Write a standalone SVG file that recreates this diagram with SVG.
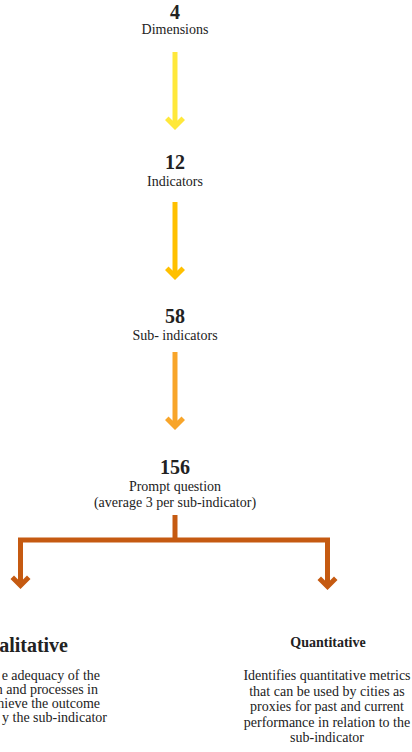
<svg xmlns="http://www.w3.org/2000/svg" width="412" height="752" viewBox="0 0 412 752">
<style>
text{font-family:"Liberation Serif","Times New Roman",serif;fill:#222;}
.num{font-size:20px;font-weight:bold;text-anchor:middle;}
.lbl{font-size:14px;text-anchor:middle;}
.qt{font-size:14px;font-weight:bold;text-anchor:middle;}
.qd{font-size:14px;text-anchor:middle;}
.lt{font-size:20px;font-weight:bold;text-anchor:end;}
.ld{font-size:14px;text-anchor:end;}
.shaft{fill:none;stroke-width:5;stroke-linejoin:miter;}
</style>
<defs>
<path id="head" d="M-2.5,-9.5 L-6.5,-13.5 L-10,-10 L0,0 L10,-10 L6.5,-13.5 L2.5,-9.5 Z"/>
</defs>
<g id="n-dimensions">
<text class="num" x="175" y="19">4</text>
<text class="lbl" x="175" y="34">Dimensions</text>
</g>
<g id="n-indicators">
<text class="num" x="175" y="169">12</text>
<text class="lbl" x="175" y="186">Indicators</text>
</g>
<g id="n-subindicators">
<text class="num" x="175" y="323">58</text>
<text class="lbl" x="175" y="340">Sub- indicators</text>
</g>
<g id="n-prompt">
<text class="num" x="175" y="474">156</text>
<text class="lbl" x="175" y="491">Prompt question</text>
<text class="lbl" x="175" y="507">(average 3 per sub-indicator)</text>
</g>
<g id="n-qualitative">
<text class="lt" x="68" y="652">alitative</text>
<text class="ld" x="100" y="680">e adequacy of the</text>
<text class="ld" x="98" y="694">n and processes in</text>
<text class="ld" x="100" y="708">hieve the outcome</text>
<text class="ld" x="107" y="722">y the sub-indicator</text>
</g>
<g id="n-quantitative">
<text class="qt" x="328" y="647">Quantitative</text>
<text class="qd" x="327" y="680">Identifies quantitative metrics</text>
<text class="qd" x="327" y="695.5">that can be used by cities as</text>
<text class="qd" x="327" y="711">proxies for past and current</text>
<text class="qd" x="327" y="726.5">performance in relation to the</text>
<text class="qd" x="327" y="742">sub-indicator</text>
</g>
<g id="connectors">
<g fill="#FFE83B" stroke="#FFE83B">
<path class="shaft" d="M175,52 V122"/>
<use href="#head" x="175" y="130" stroke="none"/>
</g>
<g fill="#FFC000" stroke="#FFC000">
<path class="shaft" d="M175,202 V272"/>
<use href="#head" x="175" y="280" stroke="none"/>
</g>
<g fill="#F8A52A" stroke="#F8A52A">
<path class="shaft" d="M175,352 V422"/>
<use href="#head" x="175" y="430" stroke="none"/>
</g>
<g fill="#C55A11" stroke="#C55A11">
<path class="shaft" d="M175,515 V540"/>
<path class="shaft" d="M20.5,581 V540 H327.5 V582"/>
<use href="#head" x="20.5" y="589" stroke="none"/>
<use href="#head" x="327.5" y="590" stroke="none"/>
</g>
</g>
</svg>
